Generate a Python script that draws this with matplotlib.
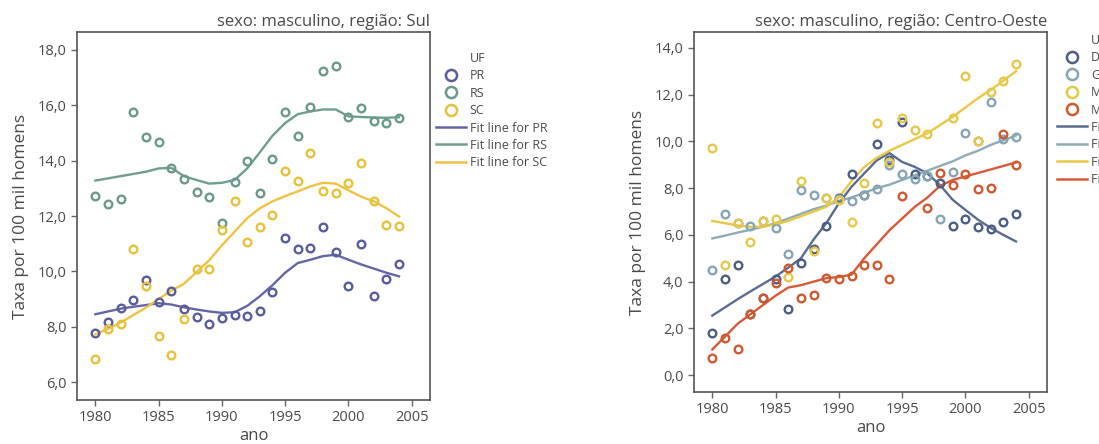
import numpy as np
import matplotlib
matplotlib.use("Agg")
import matplotlib.pyplot as plt
from matplotlib.lines import Line2D

plt.rcParams['font.family'] = ['Open Sans', 'DejaVu Sans']

nan = np.nan
years = [1980, 1981, 1982, 1983, 1984, 1985, 1986, 1987, 1988, 1989, 1990, 1991, 1992,
         1993, 1994, 1995, 1996, 1997, 1998, 1999, 2000, 2001, 2002, 2003, 2004]

# ---- Região Sul ----
sul_states = ['PR', 'RS', 'SC']
pr_vals = [7.78, 8.18, 8.67, 8.96, 9.67, 8.88, 9.30, 8.63, 8.35, 8.08, 8.33, 8.43, 8.39,
           8.55, 9.24, 11.21, 10.82, 10.86, 11.61, 10.70, 9.48, 11.00, 9.12, 9.73, 10.27]
rs_vals = [12.71, 12.42, 12.61, 15.75, 14.87, 14.68, 13.74, 13.34, 12.87, 12.69, 11.73, 13.22, 13.99,
           12.83, 14.05, 15.77, 14.89, 15.93, 17.23, 17.42, 15.57, 15.90, 15.43, 15.36, 15.54]
sc_vals = [6.84, 7.90, 8.11, 10.82, 9.48, 7.66, 6.97, 8.27, 10.09, 10.09, 11.49, 12.53, 11.07,
           11.59, 12.04, 13.62, 13.26, 14.29, 12.89, 12.83, 13.20, 13.90, 12.56, 11.68, 11.64]
pr_fit = [8.45, 8.55, 8.65, 8.72, 8.78, 8.85, 8.80, 8.70, 8.62, 8.55, 8.50, 8.52, 8.75,
          9.10, 9.50, 9.95, 10.30, 10.42, 10.55, 10.60, 10.42, 10.25, 10.10, 9.95, 9.82]
rs_fit = [13.28, 13.36, 13.44, 13.52, 13.60, 13.72, 13.74, 13.44, 13.30, 13.17, 13.20, 13.30, 13.72,
          14.30, 14.90, 15.36, 15.68, 15.78, 15.85, 15.85, 15.60, 15.58, 15.56, 15.55, 15.57]
sc_fit = [7.72, 7.92, 8.15, 8.42, 8.69, 9.00, 9.30, 9.55, 9.97, 10.40, 10.94, 11.43, 11.92,
          12.28, 12.53, 12.72, 12.89, 13.07, 13.20, 13.17, 12.93, 12.70, 12.53, 12.28, 11.98]

# ---- Região Centro-Oeste ----
co_states = ['DF', 'GO', 'MS', 'MT']
df_vals = [1.80, 4.10, 4.70, 2.60, 3.30, 4.10, 2.85, 4.80, 5.40, 6.40, 7.60, 8.60, 7.70,
           9.90, 9.20, 10.85, 8.60, 8.50, 8.20, 6.40, 6.70, 6.35, 6.25, 6.55, 6.90]
go_vals = [4.50, 6.90, 6.50, 6.40, 6.60, 6.30, 5.20, 7.90, 7.70, 7.60, 7.55, 7.45, 7.70,
           7.95, 9.00, 8.60, 8.40, 8.50, 6.70, 8.70, 10.35, 10.00, 11.70, 10.10, 10.20]
ms_vals = [9.70, 4.70, 6.50, 5.70, 6.60, 6.70, 4.20, 8.30, 5.30, 7.60, 7.50, 6.55, 8.20,
           10.80, 9.10, 11.00, 10.50, 10.30, nan, 11.00, 12.80, 10.00, 12.10, 12.60, 13.30]
mt_vals = [0.75, 1.60, 1.10, 2.60, 3.30, 3.95, 4.60, 3.30, 3.45, 4.15, 4.10, 4.25, 4.70,
           4.70, 4.10, 7.65, nan, 7.15, 8.65, 8.15, 8.60, 7.95, 8.00, 10.30, 9.00]
df_fit = [2.55, 2.90, 3.25, 3.58, 3.90, 4.22, 4.60, 5.00, 5.80, 6.50, 7.35, 8.06, 8.63,
          9.19, 9.50, 9.12, 8.91, 8.63, 8.13, 7.50, 7.07, 6.65, 6.30, 6.00, 5.72]
go_fit = [5.85, 5.97, 6.10, 6.22, 6.35, 6.50, 6.70, 6.90, 7.10, 7.25, 7.45, 7.60, 7.80,
          8.00, 8.15, 8.35, 8.55, 8.75, 8.95, 9.15, 9.40, 9.60, 9.85, 10.05, 10.25]
ms_fit = [6.60, 6.50, 6.40, 6.35, 6.35, 6.45, 6.60, 6.80, 7.00, 7.20, 7.60, 8.30, 8.90,
          9.30, 9.60, 9.85, 10.10, 10.35, 10.70, 11.05, 11.45, 11.85, 12.20, 12.60, 13.00]
mt_fit = [1.10, 1.65, 2.20, 2.60, 3.00, 3.40, 3.75, 3.85, 4.00, 4.15, 4.20, 4.30, 5.00,
          5.60, 6.20, 6.70, 7.20, 7.60, 8.10, 8.35, 8.50, 8.65, 8.80, 8.95, 9.10]

sul_pts = [pr_vals, rs_vals, sc_vals]
sul_fits = [pr_fit, rs_fit, sc_fit]
sul_pt_colors = ['#5b5c9c', '#6a9a8c', '#e6c23c']
sul_ln_colors = ['#6566a8', '#6e9e92', '#efc244']

co_pts = [df_vals, go_vals, ms_vals, mt_vals]
co_fits = [df_fit, go_fit, ms_fit, mt_fit]
co_pt_colors = ['#4a5e86', '#86a6b6', '#e6c84a', '#cf5a30']
co_ln_colors = ['#5a6c92', '#8eacb6', '#ebc844', '#d65a38']

TXT = '#4a4a4a'
W, H = 1099, 444
fig = plt.figure(figsize=(W / 100, H / 100), dpi=100)


def panel(rect, pts, fits, pcol, lcol, states, title, ylim, yticks, leg_xy):
    ax = fig.add_axes(rect)
    for v, c in zip(pts, pcol):
        ax.plot(years, v, linestyle='none', marker='o', markersize=5.5,
                markerfacecolor='none', markeredgecolor=c, markeredgewidth=1.7, zorder=3)
    for v, c in zip(fits, lcol):
        ax.plot(years, v, color=c, lw=1.7, zorder=2)
    ax.set_xlim(1978.55, 2006.45)
    ax.set_ylim(*ylim)
    ax.set_xticks([1980, 1985, 1990, 1995, 2000, 2005])
    ax.set_yticks(yticks)
    ax.set_yticklabels([f'{t:.1f}'.replace('.', ',') for t in yticks])
    for s in ax.spines.values():
        s.set_color('#555555')
        s.set_linewidth(1.2)
    ax.tick_params(axis='both', colors='#666666', labelcolor=TXT, labelsize=10.5,
                   length=4, width=1, direction='out')
    ax.set_xlabel('ano', fontsize=12, color=TXT, labelpad=2)
    ax.set_ylabel('Taxa por 100 mil homens', fontsize=12.5, color=TXT, labelpad=6)
    ax.set_title(title, loc='right', fontsize=12, color=TXT, pad=4)

    handles = [Line2D([], [], linestyle='none', label='UF')]
    for s, c in zip(states, pcol):
        handles.append(Line2D([], [], linestyle='none', marker='o', markersize=8,
                              markerfacecolor='none', markeredgecolor=c,
                              markeredgewidth=1.8, label=s))
    for s, c in zip(states, lcol):
        handles.append(Line2D([], [], color=c, lw=1.8, label=f'Fit line for {s}'))
    fig.legend(handles=handles, loc='upper left', bbox_to_anchor=leg_xy,
               bbox_transform=fig.transFigure, frameon=False, fontsize=9,
               labelcolor=TXT, handlelength=2.4, handletextpad=0.3,
               labelspacing=0.35, borderpad=0, borderaxespad=0)
    return ax


panel([77 / W, (H - 400) / H, 353 / W, 368 / H], sul_pts, sul_fits,
      sul_pt_colors, sul_ln_colors, sul_states,
      'sexo: masculino, região: Sul', (5.35, 18.65),
      [6, 8, 10, 12, 14, 16, 18], (436 / W, (H - 52) / H))

# The reference's Centro-Oeste legend runs off the right edge of the image.
panel([694 / W, (H - 392) / H, 353 / W, 360 / H], co_pts, co_fits,
      co_pt_colors, co_ln_colors, co_states,
      'sexo: masculino, região: Centro-Oeste', (-0.72, 14.68),
      [0, 2, 4, 6, 8, 10, 12, 14], (1057 / W, (H - 34) / H))

fig.savefig('out.png', dpi=100)
